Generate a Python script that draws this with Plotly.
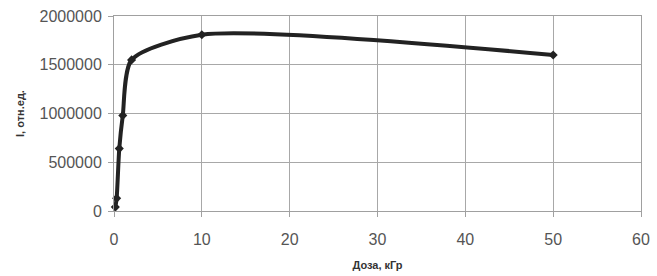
import plotly.graph_objects as go

dose = [0.15, 0.3, 0.6, 1.0, 2.0, 10.0, 50.0]
intensity = [40000, 130000, 640000, 980000, 1550000, 1808000, 1600000]

x_ticks = [0, 10, 20, 30, 40, 50, 60]
y_ticks = [0, 500000, 1000000, 1500000, 2000000]

fig = go.Figure()
fig.add_trace(go.Scatter(
    x=dose, y=intensity, mode="lines+markers",
    line=dict(color="#222222", width=4, shape="spline", smoothing=0.7),
    marker=dict(symbol="diamond", size=7, color="#222222"),
    showlegend=False, cliponaxis=False,
))

axis_font = dict(family="Liberation Sans, Arial, sans-serif", size=16, color="#555555")
title_font = dict(family="Liberation Sans, Arial, sans-serif", size=11, color="#333333")

fig.update_layout(
    width=657, height=276,
    margin=dict(l=114, r=16, t=16, b=65),
    paper_bgcolor="white", plot_bgcolor="white",
    xaxis=dict(
        range=[0, 60], tickvals=x_ticks, ticktext=[str(v) for v in x_ticks],
        showgrid=True, gridcolor="#a8a8a8", gridwidth=1,
        showline=True, linecolor="#a0a0a0", linewidth=1, mirror=True,
        ticks="outside", ticklen=5, tickcolor="#a0a0a0",
        ticklabelstandoff=9,
        tickfont=axis_font, zeroline=False, automargin=False,
        title=dict(text="<b>Доза, кГр</b>", font=title_font, standoff=14),
    ),
    yaxis=dict(
        range=[0, 2000000], tickvals=y_ticks, ticktext=[str(v) for v in y_ticks],
        showgrid=True, gridcolor="#a8a8a8", gridwidth=1,
        showline=True, linecolor="#a0a0a0", linewidth=1, mirror=True,
        ticks="outside", ticklen=5, tickcolor="#a0a0a0",
        ticklabelstandoff=3,
        tickfont=axis_font, zeroline=False, automargin=False,
        title=dict(text="<b>I, отн.ед.</b>", font=title_font, standoff=12),
    ),
)

fig.write_html("out.html", post_script="document.body.style.margin='0';",
               config={"displayModeBar": False})
